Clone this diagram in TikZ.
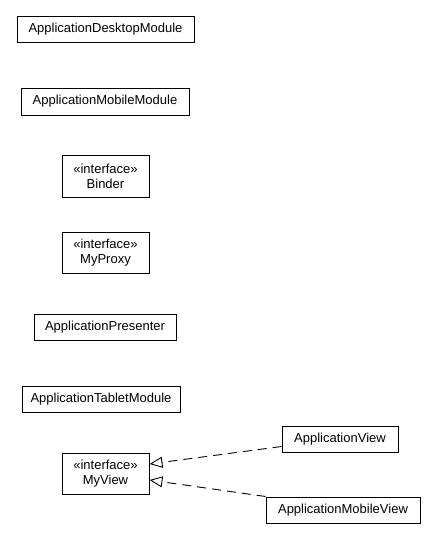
\documentclass[tikz,border=0pt]{standalone}
\usepackage{fontspec}
\setmainfont{Liberation Sans}
\usetikzlibrary{arrows.meta}
\begin{document}
\begin{tikzpicture}[x=1pt,y=-1pt,
  cls/.style={draw=black,line width=1pt,fill=white,inner sep=0pt,align=center,font=\fontsize{13}{15}\selectfont},
  real/.style={draw=black,line width=0.9pt,dash pattern=on 9pt off 6pt,-{Triangle[open,length=13pt,width=11pt,line width=0.9pt]}}]
\useasboundingbox (0,0) rectangle (435,539);
\node[cls,minimum width=177pt,minimum height=26pt] (desk) at (105.5,29) {ApplicationDesktopModule};
\node[cls,minimum width=168pt,minimum height=27pt] (mobm) at (105,101.5) {ApplicationMobileModule};
\node[cls,minimum width=87pt,minimum height=42pt] (binder) at (105.5,176) {«interface»\\Binder};
\node[cls,minimum width=87pt,minimum height=41pt] (proxy) at (105.5,252.5) {«interface»\\MyProxy};
\node[cls,minimum width=142pt,minimum height=26pt] (pres) at (105,327) {ApplicationPresenter};
\node[cls,minimum width=158pt,minimum height=26pt] (tab) at (101,399) {ApplicationTabletModule};
\node[cls,minimum width=87pt,minimum height=41pt] (mv) at (105.5,473.5) {«interface»\\MyView};
\node[cls,minimum width=116pt,minimum height=26pt] (av) at (340,439) {ApplicationView};
\node[cls,minimum width=154pt,minimum height=26pt] (amv) at (343,510) {ApplicationMobileView};
\draw[real] ([yshift=6pt]av.south west) -- ([yshift=9.5pt]mv.east);
\draw[real] (amv.north west) -- ([yshift=-6.5pt]mv.east);
\end{tikzpicture}
\end{document}
